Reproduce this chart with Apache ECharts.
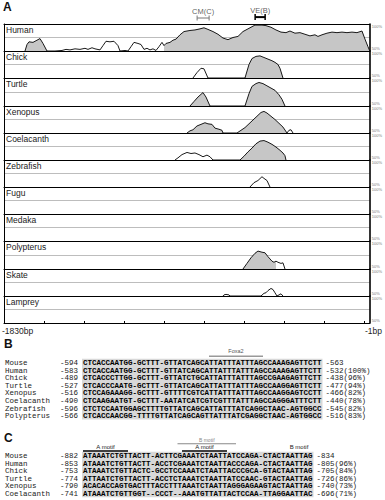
<!DOCTYPE html>
<html><head><meta charset="utf-8">
<script src="https://cdn.jsdelivr.net/npm/echarts@6/dist/echarts.min.js"></script>
<style>html,body{margin:0;padding:0;background:#fff}#c{width:385px;height:500px}</style>
</head><body><div id="c"></div>
<script>
// ---------- Panel A data (position in bp, % identity) ----------
const species = ['Human','Chick','Turtle','Xenopus','Coelacanth','Zebrafish','Fugu','Medaka','Polypterus','Skate','Lamprey'];
const human = [[-1725,50],[-1715,62],[-1705,67],[-1685,66],[-1665,70],[-1650,73],[-1635,64],[-1615,50],[-1575,50],[-1540,51],[-1520,53],[-1500,52],[-1475,54],[-1450,53],[-1425,55],[-1410,53],[-1390,56],[-1375,54],[-1350,52],[-1335,60],[-1320,68],[-1300,67],[-1280,68],[-1260,60],[-1250,50],[-1225,51],[-1210,50],[-1195,58],[-1180,66],[-1160,64],[-1145,62],[-1130,53],[-1115,55],[-1100,52],[-1085,54],[-1070,51],[-1055,58],[-1040,66],[-1030,60],[-1020,64],[-1000,66],[-985,70],[-970,72],[-950,80],[-930,86],[-900,88],[-875,89],[-850,91],[-830,93],[-810,90],[-785,86],[-760,81],[-735,74],[-710,71],[-685,75],[-660,77],[-635,86],[-610,91],[-575,98],[-540,98],[-520,97],[-495,94],[-470,89],[-445,85],[-420,84],[-400,87],[-375,83],[-350,84],[-325,81],[-300,78],[-275,80],[-260,77],[-240,80],[-215,83],[-190,85],[-165,84],[-140,85],[-115,84],[-90,85],[-65,84],[-40,87],[-25,72],[-10,58],[-1,50]];
const chick = [[-885,50],[-865,60],[-845,68],[-830,67],[-810,50],[-625,50],[-605,75],[-590,86],[-570,90],[-550,91],[-530,88],[-510,85],[-490,82],[-475,79],[-460,75],[-450,68],[-435,50]];
const turtle = [[-900,50],[-880,58],[-860,66],[-835,74],[-820,66],[-800,50],[-625,50],[-605,72],[-590,85],[-570,90],[-555,92],[-535,90],[-515,86],[-495,82],[-475,78],[-455,70],[-440,62],[-425,50]];
const xenopus = [[-915,50],[-900,54],[-885,56],[-865,63],[-845,66],[-825,69],[-810,67],[-790,66],[-775,59],[-755,57],[-740,55],[-735,50],[-665,50],[-645,55],[-625,60],[-605,67],[-585,74],[-565,81],[-545,88],[-530,90],[-515,87],[-495,81],[-475,75],[-455,68],[-435,61],[-415,50],[-405,55],[-395,56],[-385,50]];
const coelacanth = [[-975,50],[-960,54],[-940,60],[-915,64],[-895,62],[-875,63],[-855,60],[-835,56],[-815,59],[-800,56],[-785,50],[-650,50],[-630,57],[-610,65],[-590,72],[-570,80],[-550,85],[-530,86],[-510,83],[-490,79],[-470,74],[-450,68],[-435,63],[-425,58],[-420,50]];
const zebrafish = [[-600,50],[-580,58],[-560,62],[-540,69],[-530,66],[-515,62],[-500,50]];
const fugu = [];
const medaka = [];
const polypterus = [[-635,50],[-615,60],[-595,70],[-575,78],[-560,82],[-540,80],[-525,79],[-510,72],[-490,64],[-480,62],[-470,64],[-460,62],[-445,60],[-435,61],[-425,50]];
const skate = [[-735,50],[-730,52],[-720,53],[-705,52],[-700,50],[-545,50],[-530,55],[-520,56],[-510,60],[-495,64],[-485,62],[-475,56],[-465,50],[-445,54],[-435,50]];
const lamprey = [];
const trackData = [human, chick, turtle, xenopus, coelacanth, zebrafish, fugu, medaka, polypterus, skate, lamprey];
// conserved (shaded) regions per species, [start bp, end bp]
const shaded = [
  [[-1725,-1615],[-1030,-1]], [[-625,-435]], [[-900,-800],[-625,-425]], [[-915,-735],[-665,-415]],
  [[-650,-420]], [], [], [], [[-635,-470]], [], []
];
const xTicks = [-1830,-1630,-1430,-1230,-1030,-830,-630,-430,-230,-30];
const axisEndLabels = ['-1830bp','-1bp'];
const cmRange = [-865,-805];
const veRange = [-575,-525];

// ---------- Panel B data ----------
const bNames = ['Mouse','Human','Chick','Turtle','Xenopus','Coelacanth','Zebrafish','Polypterus'];
const bStart = ['-594','-583','-489','-527','-516','-490','-596','-566'];
const bSeqs = [
 'CTCACCAATGG-GCTTT-GTTATCAGCATTATTTATTTAGCCAAAGAGTTCTT',
 'CTCACCAATGG-GCTTT-GTTATCAGCATTATTTATTTAGCCAAAGAGTTCTT',
 'CTCACCCTTGG-GCTTT-GTTATCTGCATTATTTATTTAGCCGAAGAGTTCTT',
 'CTCACCCAATG-GCTTT-GTTATCAGCATTATTTATTTAGCCAAGGAGTTCTT',
 'CTCCAGAAAGG-GCTTT-GTTTTCGTCATTATTTATTTAGCCAAGGAGTCCTT',
 'CTCAAGAATGT-GCTTT-AATATCATCGTCGTTTATTTAGCCAGGGATTTCTT',
 'CTCTCCAATGGAGCTTTTGTTATCAGCATTATTTATCAGGCTAAC-AGTGGCC',
 'CTCACCAACGG-TTTTGTTATCAGCAGTTATTTATCGAGGCTAAC-AGTGGCC'];
const bEnd = ['-563','-532(100%)','-438(96%)','-477(94%)','-466(82%)','-440(78%)','-545(82%)','-516(83%)'];
const bSite = {label:'Foxa2', from:28, to:40};

// ---------- Panel C data ----------
const cNames = ['Mouse','Human','Chick','Turtle','Xenopus','Coelacanth'];
const cStart = ['-882','-853','-753','-774','-790','-741'];
const cSeqs = [
 'ATAAATCTGTTACTT-ACTTCGAAATCTAATTATCCAGA-CTACTAATTAG',
 'ATAAATCTGTTACTT-ACCTCGAAATCTAATTACCCAGA-CTACTAATTAG',
 'ATAAATCTGTTACTC-GCCTCCAAATCTAATTACCCGCA-GTACTAATTAG',
 'ATTAATCTGTTACTT-ACCTCTAAATCTAATTATCCAAC-GTACTAATTAG',
 'ACACACCAGTGACTTTACCTTTAAATCTAATTAGGGAGAAGTACTAATTAG',
 'ATAAATCTGTTGGT--CCCT--AAATGTTATTACTCCAA-TTAGGAATTAC'];
const cEnd = ['-834','-805(96%)','-705(84%)','-726(86%)','-740(73%)','-696(71%)'];
const cMotifs = [
  {label:'A motif', from:0, to:10, row:1, color:'#000'},
  {label:'B motif', from:21, to:34, row:0, color:'#888'},
  {label:'A motif', from:22, to:32, row:1, color:'#000'},
  {label:'B motif', from:46, to:50, row:1, color:null}];

// ---------- build chart ----------
const chart = echarts.init(document.getElementById('c'), null, {renderer:'svg'});
const SANS = 'Liberation Sans, Arial, sans-serif';
const MONO = 'Liberation Mono, DejaVu Sans Mono, monospace';
const T0 = 24, T1 = 323, L = 4, R = 15;
const H = (T1 - T0) / species.length;
const grids = [], xAxes = [], yAxes = [], series = [], graphic = [];

function inShade(i, x){ return shaded[i].some(r => x >= r[0] && x <= r[1]); }

species.forEach((name, i) => {
  const top = Math.round(T0 + i*H), bot = Math.round(T0 + (i+1)*H);
  grids.push({left:L, right:R, top:top, height:bot-top});
  const last = i === species.length - 1;
  xAxes.push({gridIndex:i, type:'value', min:-1830, max:-1, position:'bottom', z:5,
    axisLine:{show:true, onZero:false, lineStyle:{color:'#000', width:1}},
    axisTick:{show:last, inside:true, length:2, customValues:xTicks, lineStyle:{color:'#000', width:1}},
    axisLabel:{show:false}, splitLine:{show:false}});
  yAxes.push({gridIndex:i, type:'value', min:50, max:100, interval:25, position:'right', z:1,
    axisLine:{show:true, lineStyle:{color:'#000', width:1.6}}, axisTick:{show:false},
    axisLabel:{show:true, margin:2, color:'#777', fontSize:4, fontFamily:SANS,
      formatter: v => v === 100 ? '{t|100%}' : (v === 50 ? '{b|50%}' : ''),
      rich:{t:{fontSize:4, color:'#777', padding:[5,0,0,0]}, b:{fontSize:4, color:'#777', padding:[0,0,5,0]}}},
    splitLine:{show:true, lineStyle:{color:'#bdbdbd', width:1}}});
  yAxes.push({gridIndex:i, type:'value', min:50, max:100, position:'left', z:5,
    axisLine:{show:true, lineStyle:{color:'#000', width:1}}, axisTick:{show:false},
    axisLabel:{show:false}, splitLine:{show:false}});
  const d = trackData[i];
  series.push({type:'line', xAxisIndex:i, yAxisIndex:2*i, silent:true, symbol:'none', connectNulls:false,
    data: d.map(p => inShade(i, p[0]) ? p : [p[0], '-']),
    lineStyle:{opacity:0, width:0}, areaStyle:{color:'#c6c6c6', opacity:1, origin:'start'}, z:2});
  series.push({type:'line', xAxisIndex:i, yAxisIndex:2*i, silent:true, symbol:'none',
    data:d, lineStyle:{color:'#000', width:0.9}, z:3});
  graphic.push({type:'text', left:L+2, top:top+1, silent:true,
    style:{text:name, fill:'#222', font:'8.5px ' + SANS}});
});
// top border of the first track
xAxes.push({gridIndex:0, type:'value', min:-1830, max:-1, position:'top', z:5,
  axisLine:{show:true, onZero:false, lineStyle:{color:'#000', width:1}},
  axisTick:{show:false}, axisLabel:{show:false}, splitLine:{show:false}});
// annotation strip (CM / VE brackets)
const gA = grids.length;
grids.push({left:L, right:R, top:15, height:6});
const xA = xAxes.length, yA = yAxes.length;
xAxes.push({gridIndex:gA, type:'value', min:-1830, max:-1, show:false});
yAxes.push({gridIndex:gA, type:'value', min:-1, max:1, show:false});
[[cmRange,'CM(C)','#777',1,[1,5]],[veRange,'VE(B)','#000',2,[1.5,6]]].forEach(([rg, lab, col, w, ss]) => {
  series.push({type:'line', xAxisIndex:xA, yAxisIndex:yA, silent:true, data:rg.map(v => [v, lab==='VE(B)'?0.3:0]),
    symbol:'rect', symbolSize:ss, itemStyle:{color:col}, lineStyle:{color:col, width:w}});
  series.push({type:'scatter', xAxisIndex:xA, yAxisIndex:yA, silent:true, symbolSize:0,
    data:[{name:lab, value:[(rg[0]+rg[1])/2, lab==='VE(B)'?0.3:0]}],
    label:{show:true, position:'top', distance:3, formatter:'{b}', fontSize:7.5, color:'#333', fontFamily:SANS}});
});

// panel letters and axis end labels
graphic.push({type:'text', left:3, top:1, style:{text:'A', fill:'#111', font:'bold 12px ' + SANS}});
graphic.push({type:'text', left:2, top:T1+3, style:{text:axisEndLabels[0], fill:'#222', font:'8.5px ' + SANS}});
graphic.push({type:'text', right:3, top:T1+3, style:{text:axisEndLabels[1], fill:'#222', font:'8.5px ' + SANS}});

// ---------- alignment panels ----------
const CW = 4.5, SEQX = 83, NUMR = 78;
function block(letter, letterY, names, starts, seqs, ends, y0, dy){
  graphic.push({type:'text', left:4, top:letterY-7, style:{text:letter, fill:'#111', font:'bold 12px ' + SANS}});
  const maxLen = Math.max(...seqs.map(s => s.length));
  graphic.push({type:'rect', silent:true, z:-1, shape:{x:SEQX-1, y:y0-dy/2-0.5, width:maxLen*CW+2, height:names.length*dy},
    style:{fill:'#d8d8d8'}});
  names.forEach((n, i) => {
    const y = y0 + i*dy;
    graphic.push({type:'text', x:5, y:y, style:{text:n, fill:'#222', font:'7.5px ' + MONO, textVerticalAlign:'middle'}});
    graphic.push({type:'text', x:NUMR, y:y, style:{text:starts[i], fill:'#222', font:'7.5px ' + MONO, textAlign:'right', textVerticalAlign:'middle'}});
    graphic.push({type:'text', x:SEQX, y:y, style:{text:seqs[i], fill:'#000', font:'bold 7.5px ' + MONO, textVerticalAlign:'middle'}});
    graphic.push({type:'text', x:SEQX + maxLen*CW + 4, y:y, style:{text:ends[i], fill:'#222', font:'7.5px ' + MONO, textVerticalAlign:'middle'}});
  });
}
block('B', 345, bNames, bStart, bSeqs, bEnd, 363, 7.6);
block('C', 439, cNames, cStart, cSeqs, cEnd, 456, 7.6);

// Foxa2 site
graphic.push({type:'text', x:SEQX + (bSite.from + bSite.to)/2*CW, y:351,
  style:{text:bSite.label, fill:'#555', font:'5.5px ' + SANS, textAlign:'center', textVerticalAlign:'middle'}});
graphic.push({type:'rect', shape:{x:SEQX + bSite.from*CW, y:355.5, width:(bSite.to - bSite.from)*CW, height:1.5}, style:{fill:'#999'}});
// motifs
cMotifs.forEach(m => {
  const ty = m.row === 0 ? 440 : 447;
  graphic.push({type:'text', x:SEQX + (m.from + m.to)/2*CW, y:ty,
    style:{text:m.label, fill: m.row === 0 ? '#888' : '#222', font:(m.row === 0 ? '5px ' : '6px ') + SANS, textAlign:'center', textVerticalAlign:'middle'}});
  if (m.color) graphic.push({type:'rect', shape:{x:SEQX + m.from*CW, y:ty+3.3, width:(m.to - m.from)*CW, height: m.row === 0 ? 1 : 1.4}, style:{fill:m.color}});
});

chart.setOption({
  animation:false, backgroundColor:'#fff',
  grid:grids, xAxis:xAxes, yAxis:yAxes, series:series, graphic:graphic
});
</script></body></html>
